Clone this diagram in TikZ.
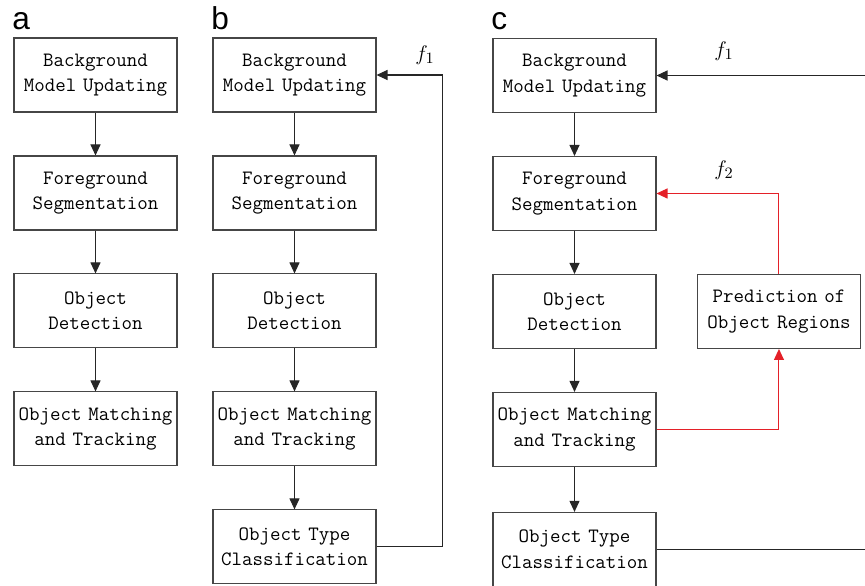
\documentclass[tikz,border=0pt]{standalone}
\usepackage{fontspec}
\newfontfamily\panelfont{Liberation Sans}
\usepackage{tikz}
\usetikzlibrary{shapes,arrows.meta}
\definecolor{predred}{RGB}{228,32,40}
\definecolor{boxgray}{RGB}{70,70,70}

\begin{document}
\begin{tikzpicture}[x=0.02cm, y=-0.02cm, node distance=2.36cm, auto]
    % Define block styles
    \tikzstyle{block} = [rectangle, draw=boxgray, line width=0.6pt, 
        text width=3.26cm, text centered, minimum width=3.26cm, minimum height=1.48cm,
        inner sep=0pt, font=\ttfamily\fontsize{11.6}{14.4}\selectfont]
    \tikzstyle{line} = [draw, black!85, line width=0.6pt, -{Triangle[length=0.22cm,width=0.2cm]}]
    \tikzstyle{redline} = [line, predred]
    \tikzstyle{panel} = [anchor=base west, inner sep=0pt, font=\panelfont\fontsize{18}{18}\selectfont]
    \tikzstyle{flabel} = [inner sep=0pt, font=\fontsize{13}{13}\selectfont]

    \useasboundingbox (0,0) rectangle (865,585);

    % Panel a
    \node [panel] (labela) at (12,29) {a};
    \node [block] (bga) at (95.5,75) {Background\\Model Updating};
    \node [block, below of=bga] (fga) {Foreground\\Segmentation};
    \node [block, below of=fga] (deta) {Object\\Detection};
    \node [block, below of=deta] (trka) {Object Matching\\and Tracking};
    \path [line] (bga) -- (fga);
    \path [line] (fga) -- (deta);
    \path [line] (deta) -- (trka);

    % Panel b
    \node [panel] (labelb) at (211,29) {b};
    \node [block] (bgb) at (294.5,75) {Background\\Model Updating};
    \node [block, below of=bgb] (fgb) {Foreground\\Segmentation};
    \node [block, below of=fgb] (detb) {Object\\Detection};
    \node [block, below of=detb] (trkb) {Object Matching\\and Tracking};
    \node [block, below of=trkb] (clsb) {Object Type\\Classification};
    \node [flabel] (f1b) at (425,55) {$f_1$};
    \path [line] (bgb) -- (fgb);
    \path [line] (fgb) -- (detb);
    \path [line] (detb) -- (trkb);
    \path [line] (trkb) -- (clsb);
    \path [line] (clsb.east) -- ++(66,0) |- (bgb.east);

    % Panel c
    \node [panel] (labelc) at (491,29) {c};
    \node [block] (bgc) at (574.5,75.5) {Background\\Model Updating};
    \node [block, below of=bgc] (fgc) {Foreground\\Segmentation};
    \node [block, below of=fgc] (detc) {Object\\Detection};
    \node [block, below of=detc] (trkc) {Object Matching\\and Tracking};
    \node [block, below of=trkc, node distance=2.4cm] (clsc) {Object Type\\Classification};
    \node [block, right of=detc, node distance=4.09cm] (pred) {Prediction of\\Object Regions};
    \node [flabel] (f1c) at (724,51) {$f_1$};
    \node [flabel] (f2c) at (724,170) {$f_2$};
    \coordinate (f1in) at (865,0 |- bgc.east);
    \coordinate (clsout) at (865,0 |- clsc.east);
    \path [line] (bgc) -- (fgc);
    \path [line] (fgc) -- (detc);
    \path [line] (detc) -- (trkc);
    \path [line] (trkc) -- (clsc);
    \path [line] (f1in) -- (bgc.east);
    \draw [black!85, line width=0.6pt] (clsc.east) -- (clsout);
    \path [redline] (trkc.east) -| (pred.south);
    \path [redline] (pred.north) |- (fgc.east);
\end{tikzpicture}
\end{document}
